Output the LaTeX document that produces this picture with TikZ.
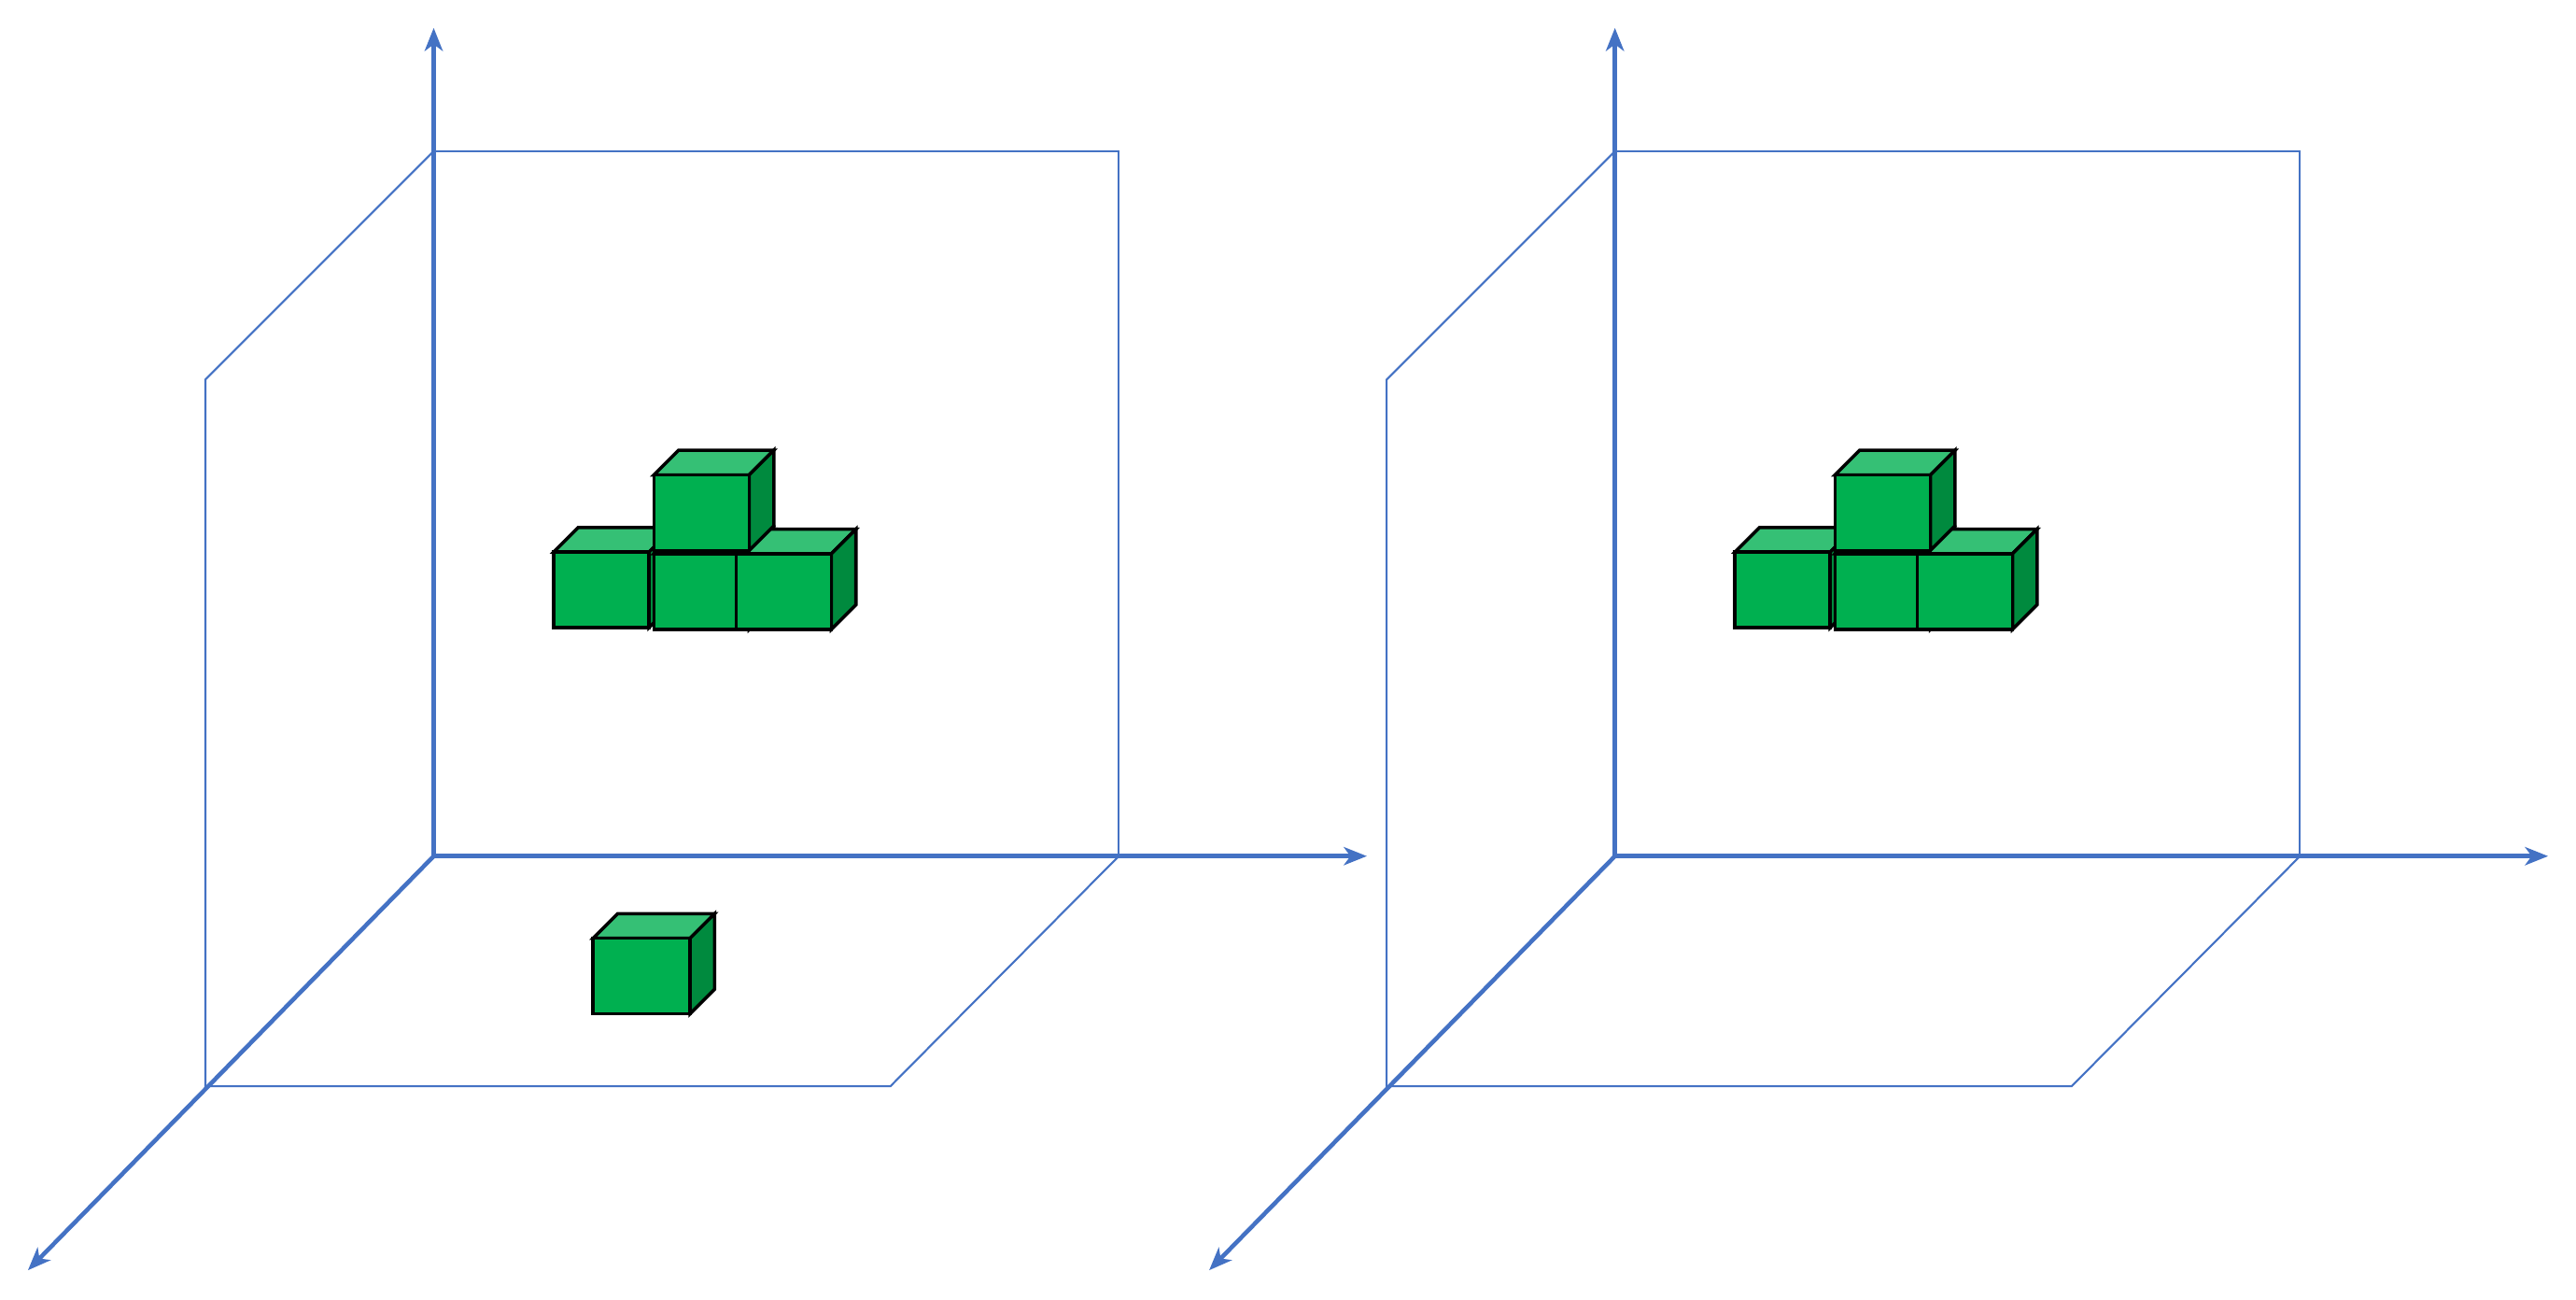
\documentclass[tikz,border=0pt]{standalone}
\usetikzlibrary{arrows.meta}
\definecolor{ax}{HTML}{4472C4}
\definecolor{gfront}{HTML}{00B050}
\definecolor{gtop}{HTML}{35C075}
\definecolor{gside}{HTML}{008A3E}
\tikzset{
 axis/.style={ax,line width=2.6pt,-{Stealth[length=14pt,width=11pt,inset=4pt]}},
 thin/.style={ax,line width=1.2pt},
 cubeline/.style={black,line width=2pt,line join=miter}
}
\newcommand\gcube[3]{% x, y (top-left of front), width
 \filldraw[cubeline,fill=gtop] (#1,#2) -- ++(15,-15) -- ++(#3,0) -- ++(-15,15) -- cycle;
 \filldraw[cubeline,fill=gside] (#1+#3,#2) -- ++(15,-15) -- ++(0,46) -- ++(-15,15) -- cycle;
 \filldraw[cubeline,fill=gfront] (#1,#2) rectangle ++(#3,46);
}
\newcommand\frameset[1]{%
 \begin{scope}[xshift=#1pt]
 \draw[thin] (264,92) rectangle (681,521);
 \draw[thin] (264,92) -- (125,231) -- (125,661) -- (542,661) -- (681,521);
 \draw[axis] (264,521) -- (264,17);
 \draw[axis] (264,521) -- (832,521);
 \draw[axis] (264,521) -- (17,773);
 \end{scope}}
\begin{document}
\begin{tikzpicture}[x=1pt,y=-1pt]
\useasboundingbox (0,0) rectangle (1568,791);
\frameset{0}
\frameset{719}
\gcube{337}{336}{58}
\gcube{398}{337}{58}
\gcube{448}{337}{58}
\gcube{398}{289}{58}
\gcube{361}{571}{59}
\gcube{1056}{336}{58}
\gcube{1117}{337}{58}
\gcube{1167}{337}{58}
\gcube{1117}{289}{58}
\end{tikzpicture}
\end{document}
